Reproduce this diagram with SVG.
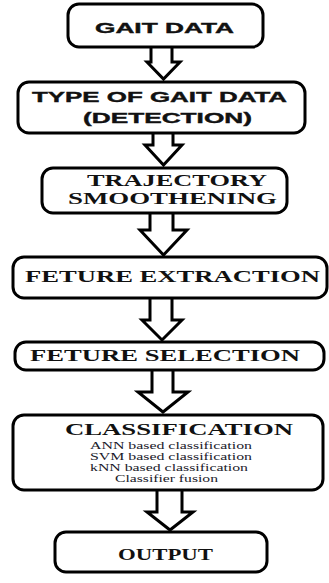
<svg xmlns="http://www.w3.org/2000/svg" width="329" height="583" viewBox="0 0 329 583">
<style>
.box{fill:#fff;stroke:#000;stroke-width:3}
.arr{fill:#fff;stroke:#000;stroke-width:3;stroke-linejoin:miter}
.sans{font-family:"Liberation Sans",Arial,sans-serif;font-weight:bold;fill:#111;stroke:#111;stroke-width:0.4}
.ser{font-family:"Liberation Serif","Times New Roman",serif;font-weight:bold;fill:#111}
.sub{font-family:"Liberation Serif","Times New Roman",serif;fill:#1a1a2a}
</style>
<rect width="329" height="583" fill="#fff"/>
<g id="connectors">
<path class="arr" d="M151,47 V62 H147 L163.5,79 L180,62 H172 V47"/>
<path class="arr" d="M153,133 V145 H145 L163.5,165 L182,145 H173 V133"/>
<path class="arr" d="M150,213 V230 H140 L163.5,255 L187,230 H173 V213"/>
<path class="arr" d="M150,298 V320 H142 L162,340 L182,320 H172 V298"/>
<path class="arr" d="M152,370 V392 H138 L163,412 L188,392 H173 V370"/>
<path class="arr" d="M157,490 V512 H147 L170,530 L193,512 H182 V490"/>
</g>
<g id="n1">
<rect class="box" x="68" y="4" width="195" height="43" rx="11"/>
<text class="sans" x="95" y="33" font-size="15" textLength="139" lengthAdjust="spacingAndGlyphs">GAIT DATA</text>
</g>
<g id="n2">
<rect class="box" x="18" y="82" width="287" height="51" rx="11"/>
<text class="sans" x="32" y="102" font-size="15" textLength="255" lengthAdjust="spacingAndGlyphs">TYPE OF GAIT DATA</text>
<text class="sans" x="83" y="123" font-size="15" textLength="169" lengthAdjust="spacingAndGlyphs">(DETECTION)</text>
</g>
<g id="n3">
<rect class="box" x="42" y="168" width="245" height="45" rx="11"/>
<text class="ser" x="87" y="186" font-size="17" textLength="180" lengthAdjust="spacingAndGlyphs">TRAJECTORY</text>
<text class="ser" x="68" y="204" font-size="17" textLength="209" lengthAdjust="spacingAndGlyphs">SMOOTHENING</text>
</g>
<g id="n4">
<rect class="box" x="13" y="257" width="314" height="41" rx="11"/>
<text class="ser" x="25" y="282" font-size="17" textLength="295" lengthAdjust="spacingAndGlyphs">FETURE EXTRACTION</text>
</g>
<g id="n5">
<rect class="box" x="15" y="342" width="309" height="28" rx="11"/>
<text class="ser" x="30" y="361" font-size="17" textLength="270" lengthAdjust="spacingAndGlyphs">FETURE SELECTION</text>
</g>
<g id="n6">
<rect class="box" x="13" y="415" width="310" height="75" rx="11"/>
<text class="ser" x="65" y="435" font-size="17" textLength="228" lengthAdjust="spacingAndGlyphs">CLASSIFICATION</text>
<text class="sub" x="90" y="449" font-size="11" textLength="162" lengthAdjust="spacingAndGlyphs">ANN based classification</text>
<text class="sub" x="90" y="460" font-size="11" textLength="162" lengthAdjust="spacingAndGlyphs">SVM based classification</text>
<text class="sub" x="90" y="471" font-size="11" textLength="158" lengthAdjust="spacingAndGlyphs">kNN based classification</text>
<text class="sub" x="115" y="482" font-size="11" textLength="103" lengthAdjust="spacingAndGlyphs">Classifier fusion</text>
</g>
<g id="n7">
<rect class="box" x="55" y="532" width="212" height="40" rx="11"/>
<text class="ser" x="118" y="560" font-size="17" textLength="95" lengthAdjust="spacingAndGlyphs">OUTPUT</text>
</g>
</svg>
